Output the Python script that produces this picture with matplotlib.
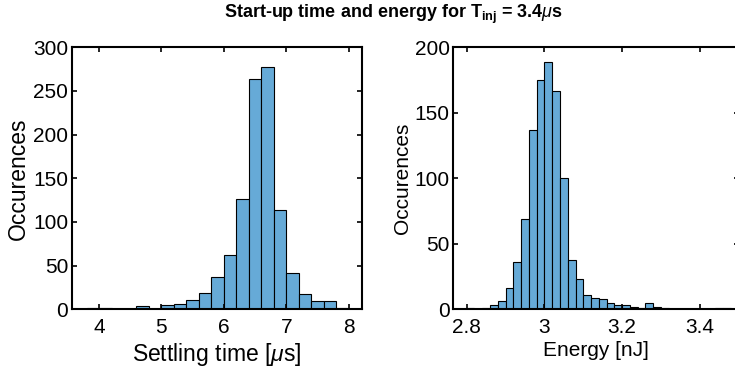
import numpy as np
import matplotlib.pyplot as plt

plt.rcParams['font.family'] = ['Liberation Sans', 'DejaVu Sans']
plt.rcParams['mathtext.fontset'] = 'custom'
plt.rcParams['mathtext.rm'] = 'Liberation Sans'
plt.rcParams['mathtext.it'] = 'Liberation Sans:italic'
plt.rcParams['mathtext.bf'] = 'Liberation Sans:bold'

# histograma do tempo de estabelecimento (bins de 0.2 us a partir de 3.8)
t_edges = np.round(np.arange(3.8, 8.0001, 0.2), 2)
t_counts = [1, 1, 0, 0, 4, 0, 5, 6, 11, 19, 37, 62, 126, 264, 277, 114, 42, 17, 10, 9, 1]

# histograma da energia (bins de 0.02 nJ a partir de 2.78)
e_edges = np.round(np.arange(2.78, 3.5001, 0.02), 2)
e_counts = [0, 1, 0, 1, 3, 6, 16, 36, 69, 137, 175, 189, 167, 100, 38, 23, 11, 9, 8, 5,
            3, 3, 2, 1, 5, 2, 1, 0, 0, 0, 0, 0, 0, 1, 1, 0]

cor = (0.4, 0.668, 0.845)  # azul do matlab com alpha 0.6

fig = plt.figure(figsize=(7.35, 3.73), dpi=100)
W, H = 735, 373
ax1 = fig.add_axes([71.7 / W, 1 - 309.3 / H, 290 / W, 262 / H])
ax2 = fig.add_axes([453.3 / W, 1 - 309.3 / H, 285.4 / W, 262 / H])


def histograma(ax, edges, counts):
    ax.bar(edges[:-1], counts, width=np.diff(edges), align='edge',
           color=cor, edgecolor='black', linewidth=0.8)
    for s in ax.spines.values():
        s.set_linewidth(1.5)
    ax.tick_params(direction='in', top=True, right=True, length=3.5, width=1.2,
                   labelsize=15)
    ax.tick_params(axis='x', pad=6.5)
    ax.tick_params(axis='y', pad=2.5)


histograma(ax1, t_edges, t_counts)
ax1.set_xlim(3.562, 8.21)
ax1.set_ylim(0, 300)
ax1.set_xticks([4, 5, 6, 7, 8])
ax1.set_yticks(np.arange(0, 301, 50))
ax1.set_xlabel(r'Settling time [$\mu$s]', fontsize=16.5, labelpad=3)
ax1.set_ylabel('Occurences', fontsize=16.5, labelpad=2)

histograma(ax2, e_edges, e_counts)
ax2.set_xlim(2.7655, 3.5)
ax2.set_ylim(0, 200)
ax2.set_xticks([2.8, 3.0, 3.2, 3.4])
ax2.set_xticklabels(['2.8', '3', '3.2', '3.4'])
ax2.set_yticks(np.arange(0, 201, 50))
ax2.set_xlabel('Energy [nJ]', fontsize=15, labelpad=3)
ax2.set_ylabel('Occurences', fontsize=15, labelpad=2)

fig.text(393.7 / W, 1 - 18.5 / H, r'Start-up time and energy for T$_{\mathbf{inj}}$ = 3.4$\mu$s',
         ha='center', va='baseline', fontsize=13, fontweight='bold')

fig.savefig('out.png', dpi=100, facecolor='white')
